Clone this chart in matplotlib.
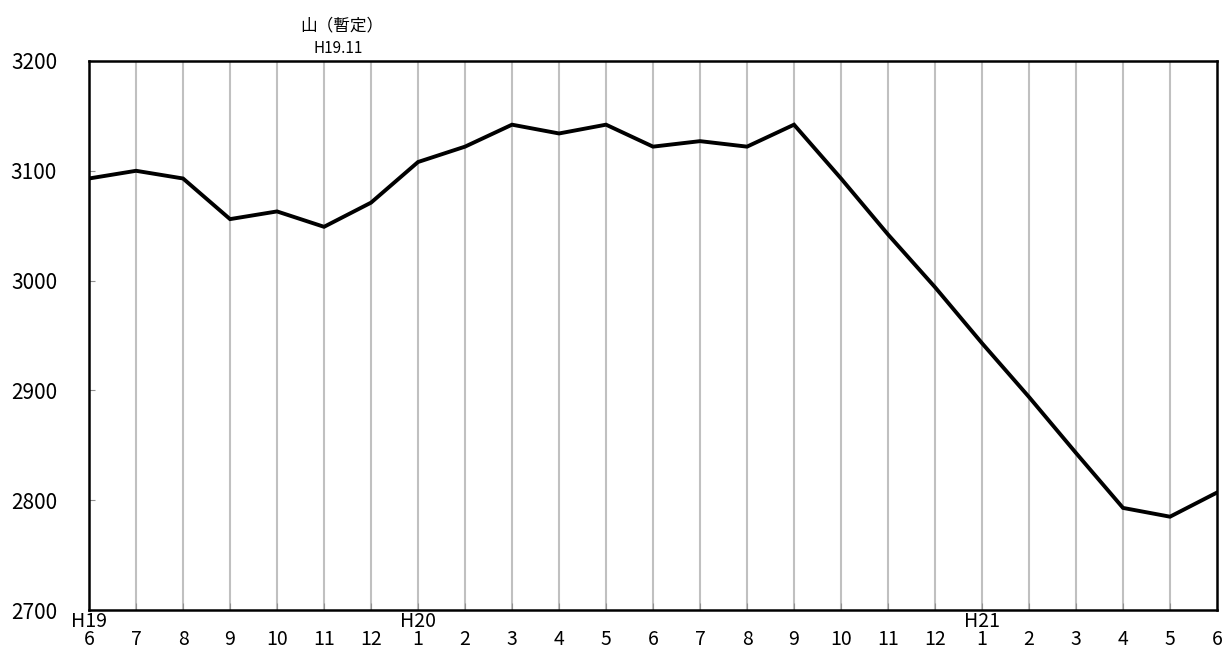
import matplotlib
matplotlib.use('Agg')
import matplotlib.pyplot as plt
import numpy as np

plt.rcParams['font.family'] = ['Noto Sans CJK JP', 'DejaVu Sans']

# data (H19.6 - H21.6, monthly)
months = [6, 7, 8, 9, 10, 11, 12, 1, 2, 3, 4, 5, 6, 7, 8, 9, 10, 11, 12, 1, 2, 3, 4, 5, 6]
year_marks = {0: 'H19', 7: 'H20', 19: 'H21'}
values = [3093, 3100, 3093, 3056, 3063, 3049, 3071, 3108, 3122, 3142, 3134, 3142,
          3122, 3127, 3122, 3142, 3093, 3042, 2994, 2943, 2894, 2843, 2793, 2785, 2807]
peak_idx = 5  # H19.11

fig = plt.figure(figsize=(12.23, 6.53), dpi=100)
ax = fig.add_axes([0.0728, 0.0658, 0.9223, 0.8408])

x = np.arange(len(values))
labels = [(year_marks[i] + '\n' if i in year_marks else '\n') + str(m) for i, m in enumerate(months)]

ax.plot(x, values, color='black', linewidth=2.8, solid_joinstyle='miter', zorder=3)

for xi in x[1:-1]:
    ax.axvline(xi, color='#c0c0c0', linewidth=1.5, zorder=1)

ax.set_xlim(0, len(values) - 1)
ax.set_ylim(2700, 3200)
ax.set_yticks(np.arange(2700, 3201, 100))
ax.set_xticks(x)
ax.set_xticklabels(labels, fontsize=14, linespacing=0.78)
ax.tick_params(axis='x', direction='in', length=5, color='#909090', pad=1)
ax.tick_params(axis='y', direction='in', length=4, color='#909090', labelsize=15, pad=23)

for s in ax.spines.values():
    s.set_linewidth(1.8)
    s.set_color('black')

ax.text(peak_idx + 0.38, 3232, '山（暫定）', ha='center', va='center', fontsize=12, clip_on=False)
ax.text(peak_idx + 0.3, 3211, 'H19.11', ha='center', va='center', fontsize=11, clip_on=False)

fig.savefig('out.png', dpi=100)
